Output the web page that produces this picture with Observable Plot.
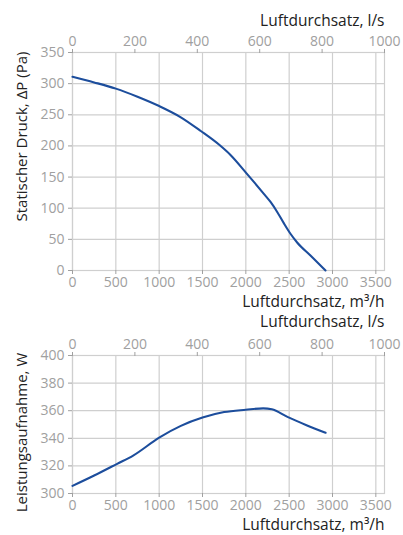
<!DOCTYPE html>
<html><head><meta charset="utf-8">
<script src="https://cdn.jsdelivr.net/npm/d3@7"></script>
<script src="https://cdn.jsdelivr.net/npm/@observablehq/plot@0.6"></script>
<style>body{margin:0;background:#fff} #c svg{display:block;overflow:visible}</style>
</head><body><div id="c"></div><script>
// Curve 1: static pressure vs airflow (m³/h)
const flowP = [0, 250, 500, 750, 1000, 1250, 1480, 1700, 1823, 2008, 2100, 2208, 2285, 2362, 2438, 2515, 2592, 2746, 2919];
const pressure = [311, 302, 292, 279, 264, 246, 224, 201, 185.5, 156, 141, 123, 110, 94, 76, 59, 45, 24, 0];
// Curve 2: power input vs airflow (m³/h)
const flowW = [0, 250, 515, 700, 1000, 1250, 1500, 1750, 2000, 2200, 2300, 2480, 2700, 2920];
const power = [305.5, 313, 321.5, 327.5, 340.5, 349, 355, 359, 360.7, 361.7, 361, 355.5, 349.5, 344];
// Axis ticks
const ticksM3h = [0, 500, 1000, 1500, 2000, 2500, 3000, 3500];
const ticksLs = [0, 200, 400, 600, 800, 1000];
const ticksP = [0, 50, 100, 150, 200, 250, 300, 350];
const ticksW = [300, 320, 340, 360, 380, 400];
const labelM3h = "Luftdurchsatz, m³/h";
const labelLs = "Luftdurchsatz, l/s";
const labelP = "Statischer Druck, ΔP (Pa)";
const labelW = "Leistungsaufnahme, W";

const dataP = flowP.map((x, i) => ({x, y: pressure[i]}));
const dataW = flowW.map((x, i) => ({x, y: power[i]}));

const font = "'Open Sans', sans-serif";
const grid = "#cfcfcf";
const tickCol = "#a0a0a0";
const blue = "#1c4d9c";

function chart({height, marginTop, marginBottom, yDomain, yTicks, data, yLabel, yLabelDy, topDy, bottomDy}) {
  return Plot.plot({
    width: 403, height, marginLeft: 72, marginRight: 19, marginTop, marginBottom,
    style: {fontFamily: font, fontSize: "14px", background: "#fff"},
    x: {domain: [0, 3600]},
    y: {domain: yDomain},
    marks: [
      Plot.gridX(ticksM3h, {stroke: grid, strokeOpacity: 1, strokeWidth: 1.2}),
      Plot.gridY(yTicks, {stroke: grid, strokeOpacity: 1, strokeWidth: 1.2}),
      Plot.frame({stroke: grid, strokeWidth: 1.2}),
      Plot.axisX({anchor: "bottom", ticks: ticksM3h, tickFormat: d => String(d), tickSize: 4, tickPadding: 3, color: tickCol, label: null, fontSize: 14}),
      Plot.axisX({anchor: "top", ticks: ticksLs.map(v => v * 3.6), tickFormat: d => String(Math.round(d / 3.6)), tickSize: 4, tickPadding: 3, color: tickCol, label: null, fontSize: 14}),
      Plot.axisY({ticks: yTicks, tickFormat: d => String(d), tickSize: 4, tickPadding: 4, color: tickCol, label: null, fontSize: 14}),
      Plot.text([labelM3h], {frameAnchor: "bottom-right", textAnchor: "end", lineAnchor: "middle", dy: bottomDy, fill: "#222", fontSize: 15.5}),
      Plot.text([labelLs], {frameAnchor: "top-right", textAnchor: "end", lineAnchor: "middle", dy: topDy, fill: "#222", fontSize: 15.5}),
      Plot.text([yLabel], {frameAnchor: "left", textAnchor: "middle", lineAnchor: "middle", rotate: -90, dx: -50, dy: yLabelDy, fill: "#222", fontSize: 15}),
      Plot.line(data, {x: "x", y: "y", stroke: blue, strokeWidth: 2.1, curve: "monotone-x"})
    ]
  });
}

const c = document.getElementById("c");
c.append(chart({height: 312, marginTop: 52, marginBottom: 42, yDomain: [0, 350], yTicks: ticksP, data: dataP, yLabel: labelP, yLabelDy: -25, topDy: -31, bottomDy: 32}));
c.append(chart({height: 223, marginTop: 43, marginBottom: 42, yDomain: [300, 400], yTicks: ticksW, data: dataW, yLabel: labelW, yLabelDy: 8, topDy: -33, bottomDy: 32}));
</script></body></html>
